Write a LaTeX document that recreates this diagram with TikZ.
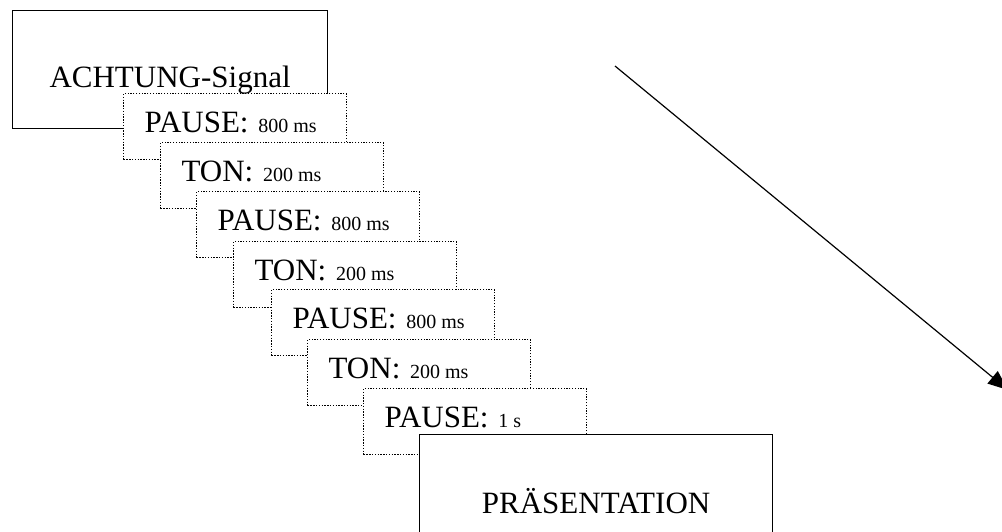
\documentclass[tikz,border=0pt]{standalone}
\usepackage{fontspec}
\setmainfont{Liberation Serif}
\usetikzlibrary{arrows.meta}
\newcommand{\smalltxt}[1]{{\fontsize{20}{24}\selectfont #1}}
\newcommand{\lefttxt}[1]{\makebox[181pt][l]{#1}}
\tikzset{
  bigfont/.style={font=\fontsize{31}{36}\selectfont},
  solidbox/.style={draw=black, line width=1.2pt, fill=white, inner sep=0pt,
    anchor=north west, bigfont},
  dotbox/.style={draw=black, line width=1.2pt, dash pattern=on 1.3pt off 1.5pt,
    fill=white, anchor=north west, inner xsep=21pt, inner ysep=0pt,
    text height=38.5pt, text depth=27.5pt, bigfont},
  arrowline/.style={draw=black, line width=1.2pt, -{Triangle[length=20pt,width=16pt]}},
}
\begin{document}
\begin{tikzpicture}[x=1pt,y=-1pt]
\useasboundingbox (0,0) rectangle (1002,531);
\clip (0,0) rectangle (1002,531);
\fill[white] (0,0) rectangle (1002,531);
\node[solidbox, text height=77pt, text depth=41pt] (achtung) at (12,10) {\makebox[315pt][c]{ACHTUNG-Signal}};
\node[dotbox] (p1) at (123,93)  {\lefttxt{PAUSE:\hspace{2pt} \smalltxt{800 ms}}};
\node[dotbox] (t1) at (160,142) {\lefttxt{TON:\hspace{2pt} \smalltxt{200 ms}}};
\node[dotbox] (p2) at (196,191) {\lefttxt{PAUSE:\hspace{2pt} \smalltxt{800 ms}}};
\node[dotbox] (t2) at (233,241) {\lefttxt{TON:\hspace{2pt} \smalltxt{200 ms}}};
\node[dotbox] (p3) at (271,289) {\lefttxt{PAUSE:\hspace{2pt} \smalltxt{800 ms}}};
\node[dotbox] (t3) at (307,339) {\lefttxt{TON:\hspace{2pt} \smalltxt{200 ms}}};
\node[dotbox] (p4) at (363,388) {\lefttxt{PAUSE:\hspace{2pt} \smalltxt{1 s}}};
\node[solidbox, text height=79pt, text depth=32pt] (praes) at (419,434) {\makebox[353pt][c]{PRÄSENTATION}};
\coordinate (arrstart) at (615,66);
\coordinate (arrend) at (1008,390);
\draw[arrowline] (arrstart) -- (arrend);
\end{tikzpicture}
\end{document}
